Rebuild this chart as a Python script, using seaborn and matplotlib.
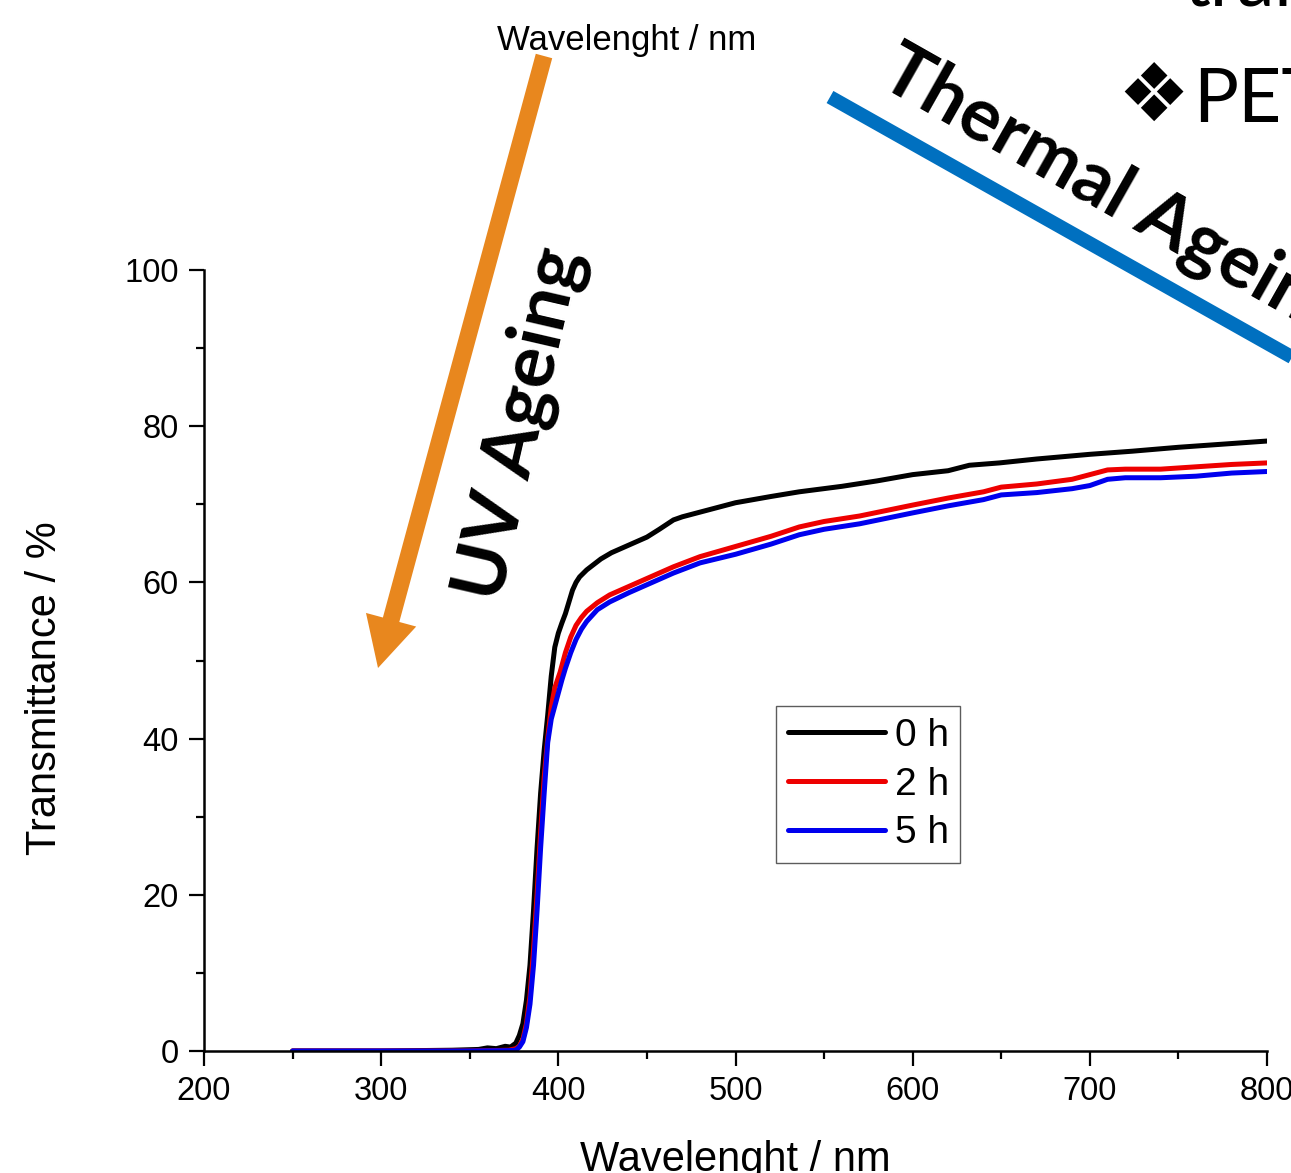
import numpy as np
import pandas as pd
import matplotlib
matplotlib.use("Agg")
import matplotlib.pyplot as plt
from matplotlib.patches import FancyArrow
from matplotlib.lines import Line2D
from matplotlib.ticker import MultipleLocator
import seaborn as sns

# ---------------- data ----------------
wl_0h = [250, 300, 340, 355, 360, 365, 370, 373, 376, 378, 380, 382, 384, 386, 388, 390, 392, 394,
         396, 398, 400, 402, 404, 406, 408, 410, 412, 416, 420, 424, 430, 442, 450, 457, 465, 470,
         480, 490, 500, 520, 536, 560, 580, 600, 620, 632, 649, 670, 700, 724, 750, 775, 800]
t_0h = [0, 0, 0.1, 0.2, 0.4, 0.3, 0.6, 0.5, 1.0, 2.0, 3.5, 6.5, 11, 18, 26, 33, 38.5, 43,
        48, 51.7, 53.5, 54.8, 56, 57.5, 59, 60, 60.7, 61.6, 62.3, 63, 63.8, 65, 65.8, 66.8, 68, 68.4,
        69, 69.6, 70.2, 71, 71.6, 72.3, 73, 73.8, 74.3, 75, 75.3, 75.8, 76.4, 76.8, 77.3, 77.7, 78.1]

wl_2h = [250, 300, 350, 372, 376, 378, 380, 382, 384, 386, 388, 390, 392, 394, 396, 398, 401, 404,
         407, 410, 413, 416, 422, 429, 440, 452, 465, 480, 500, 520, 536, 550, 570, 600, 620, 640,
         650, 670, 690, 700, 710, 720, 740, 760, 780, 800]
t_2h = [0, 0, 0, 0.1, 0.3, 0.6, 1.5, 3.5, 7, 13, 20, 28, 35, 40, 44, 46.5, 48.5, 51,
        53, 54.5, 55.5, 56.3, 57.4, 58.4, 59.5, 60.7, 62, 63.3, 64.6, 65.9, 67.1, 67.8, 68.5, 69.9, 70.8, 71.6,
        72.2, 72.6, 73.2, 73.8, 74.4, 74.5, 74.5, 74.8, 75.1, 75.3]

wl_5h = [250, 300, 350, 372, 376, 378, 380, 382, 384, 386, 388, 390, 392, 394, 396, 399, 402, 404,
         407, 410, 413, 416, 422, 429, 440, 452, 465, 480, 500, 520, 536, 550, 570, 600, 620, 640,
         650, 670, 690, 700, 710, 720, 740, 760, 780, 800]
t_5h = [0, 0, 0, 0.05, 0.1, 0.5, 1.2, 3, 6, 11, 18, 26, 33, 39.5, 42.5, 45, 47.5, 49,
        51, 52.7, 54, 55, 56.5, 57.5, 58.7, 59.9, 61.2, 62.5, 63.6, 64.9, 66.1, 66.8, 67.5, 68.9, 69.8, 70.6,
        71.2, 71.5, 72, 72.4, 73.2, 73.4, 73.4, 73.6, 74, 74.2]

series_labels = ["0 h", "2 h", "5 h"]
series_colors = ["#000000", "#EE0000", "#0000EE"]

x_ticks = [200, 300, 400, 500, 600, 700, 800]
y_ticks = [0, 20, 40, 60, 80, 100]

df = pd.concat([
    pd.DataFrame({"wl": wl_0h, "T": t_0h, "time": series_labels[0]}),
    pd.DataFrame({"wl": wl_2h, "T": t_2h, "time": series_labels[1]}),
    pd.DataFrame({"wl": wl_5h, "T": t_5h, "time": series_labels[2]}),
], ignore_index=True)

# ---------------- style ----------------
sns.set_theme(style="ticks")
plt.rcParams["font.family"] = ["Liberation Sans", "DejaVu Sans"]
plt.rcParams["text.color"] = "black"
plt.rcParams["axes.labelcolor"] = "black"

W, H, DPI = 1291, 1173, 100
fig = plt.figure(figsize=(W / DPI, H / DPI), dpi=DPI)
fig.patch.set_facecolor("white")

ax_l, ax_r, ax_t, ax_b = 204, 1267, 270, 1051
ax = fig.add_axes([ax_l / W, (H - ax_b) / H, (ax_r - ax_l) / W, (ax_b - ax_t) / H])
ax.set_facecolor("white")

sns.lineplot(data=df, x="wl", y="T", hue="time", hue_order=series_labels,
             palette=dict(zip(series_labels, series_colors)), linewidth=3.6,
             ax=ax, sort=False, estimator=None)

ax.set_xlim(200, 800)
ax.set_ylim(0, 100)
ax.set_xticks(x_ticks)
ax.set_yticks(y_ticks)
ax.xaxis.set_minor_locator(MultipleLocator(50))
ax.yaxis.set_minor_locator(MultipleLocator(10))
ax.tick_params(which="major", direction="out", length=11, width=1.6, labelsize=23.5,
               color="black", labelcolor="black", pad=7)
ax.tick_params(which="minor", direction="out", length=5.5, width=1.6, color="black")
for s in ["top", "right"]:
    ax.spines[s].set_visible(False)
for s in ["left", "bottom"]:
    ax.spines[s].set_linewidth(1.8)
    ax.spines[s].set_color("black")

ax.set_xlabel("Wavelenght / nm", fontsize=30, color="black")
ax.set_ylabel("Transmittance / %", fontsize=30, color="black")
ax.xaxis.set_label_coords(0.5, -0.1145)
ax.yaxis.set_label_coords(-0.131, 0.465)

handles = [Line2D([0], [0], color=c, lw=3.6, solid_capstyle="round") for c in series_colors]
leg = ax.legend(handles, series_labels, loc="upper left", bbox_to_anchor=(0.538, 0.4417),
                fontsize=28, frameon=True, fancybox=False, edgecolor="#333333",
                handlelength=2.5, handletextpad=0.25, labelspacing=0.33, borderpad=0.3,
                borderaxespad=0, labelcolor="black")
leg.get_frame().set_linewidth(1.0)

# ---------------- annotations ----------------
tr = fig.dpi_scale_trans  # inches, 1 inch = 100 px

def px(x, y):
    return x / DPI, (H - y) / DPI

# top label
fig.text(626.5 / W, (H - 50) / H, "Wavelenght / nm", fontsize=25, ha="center",
         va="baseline", color="black")

# orange UV arrow
x0, y0 = px(544, 56)
x1, y1 = px(378, 668)
arrow = FancyArrow(x0, y0, x1 - x0, y1 - y0, width=0.17, head_width=0.52, head_length=0.5,
                   length_includes_head=True, color="#E8871E", transform=tr, lw=0)
fig.add_artist(arrow)

ax_font = ["Lato", "DejaVu Sans"]
ux, uy = px(500, 604)
fig.text(ux, uy, "UV Ageing", transform=tr, fontsize=54, fontweight="bold",
         family=ax_font, rotation=77, rotation_mode="anchor", ha="left", va="baseline",
         color="black")

# blue thermal line
bx0, by0 = px(830, 97)
bx1, by1 = px(1400, 418)
fig.add_artist(Line2D([bx0, bx1], [by0, by1], transform=tr, color="#0070C0", lw=10,
                      solid_capstyle="butt"))
tx, ty = px(876, 84)
fig.text(tx, ty, "Thermal Ageing", transform=tr, fontsize=54, fontweight="bold",
         family=ax_font, rotation=-29.5, rotation_mode="anchor", ha="left", va="baseline",
         color="black")

# PET heading and cut-off top line
fig.text(1117 / W, (H - 122) / H, "\u2756", fontsize=58, family=["DejaVu Sans"],
         ha="left", va="baseline", color="black")
fig.text(1193 / W, (H - 122) / H, "PET", fontsize=54, family=ax_font,
         ha="left", va="baseline", color="black")
fig.text(1183 / W, (H - 5) / H, "transmittance", fontsize=54, family=ax_font,
         ha="left", va="baseline", color="black")

fig.savefig("out.png", dpi=DPI, facecolor="white")
